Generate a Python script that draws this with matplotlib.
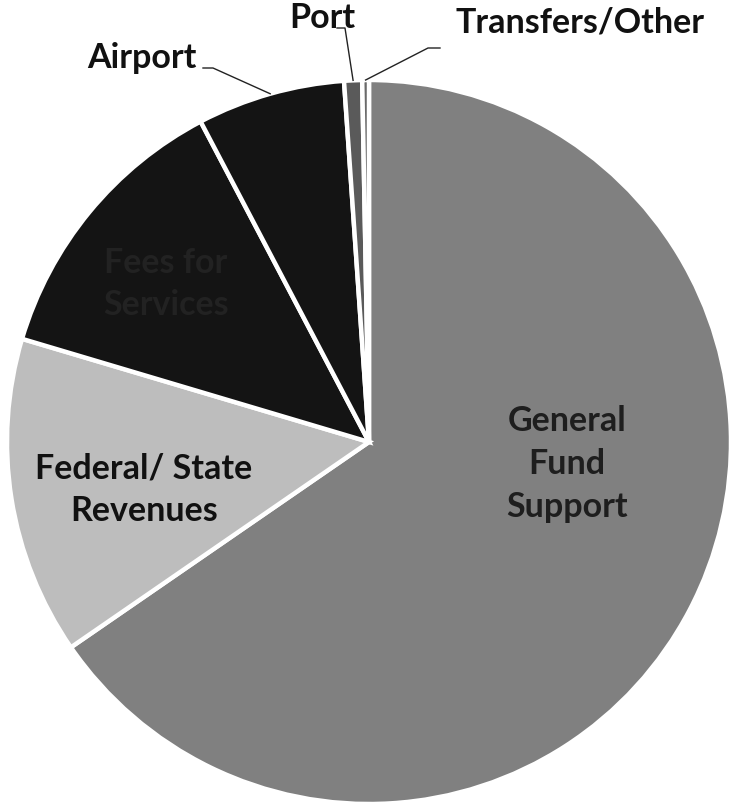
import numpy as np
import matplotlib
matplotlib.use("Agg")
import matplotlib.pyplot as plt

categories = ["General Fund Support", "Federal/ State Revenues", "Fees for Services",
              "Airport", "Port", "Transfers/Other"]
shares = [65.4, 14.2, 12.7, 6.6, 0.8, 0.3]
colors = ["#808080", "#bdbdbd", "#141414", "#141414", "#5a5a5a", "#6a6a6a"]

W, H = 734, 806
fig = plt.figure(figsize=(W / 100, H / 100), dpi=100)
ax = fig.add_axes([0, 0, 1, 1])

cx, cy, R = 369, H - 442, 362
wedges, _ = ax.pie(shares, colors=colors, startangle=90, counterclock=False,
                   center=(cx, cy), radius=R, frame=True,
                   wedgeprops=dict(edgecolor="white", linewidth=3.2))
ax.set_xlim(0, W)
ax.set_ylim(0, H)
ax.set_aspect("equal")
ax.axis("off")

font = dict(family=["Lato", "DejaVu Sans"], fontweight="bold")
fs = 24.5

# inside labels
ax.text(567, H - 464, "General\nFund\nSupport", ha="center", va="center",
        fontsize=fs, color="#1e1e1e", linespacing=1.42, **font)
ax.text(144, H - 490, "Federal/ State\nRevenues", ha="center", va="center",
        fontsize=fs, color="#111111", linespacing=1.42, **font)
ax.text(166, H - 284, "Fees for\nServices", ha="center", va="center",
        fontsize=fs, color="#222222", linespacing=1.42, **font)

def mid_point(w, frac=1.0):
    a = np.deg2rad((w.theta1 + w.theta2) / 2)
    return cx + R * frac * np.cos(a), cy + R * frac * np.sin(a)

# outside labels with leader lines
ax.text(142, H - 58, "Airport", ha="center", va="center", fontsize=fs, color="#111111", **font)
px, py = mid_point(wedges[3])
ax.plot([203, 213, px], [H - 68, H - 68, py], color="#222222", lw=1)

ax.text(322, H - 18, "Port", ha="center", va="center", fontsize=fs, color="#111111", **font)
px, py = mid_point(wedges[4])
ax.plot([337, 345, px], [H - 28, H - 28, py], color="#222222", lw=1)

ax.text(580, H - 22, "Transfers/Other", ha="center", va="center", fontsize=fs, color="#111111", **font)
px, py = mid_point(wedges[5])
ax.plot([440, 428, px], [H - 48, H - 48, py], color="#222222", lw=1)

fig.savefig("out.png", dpi=100)
